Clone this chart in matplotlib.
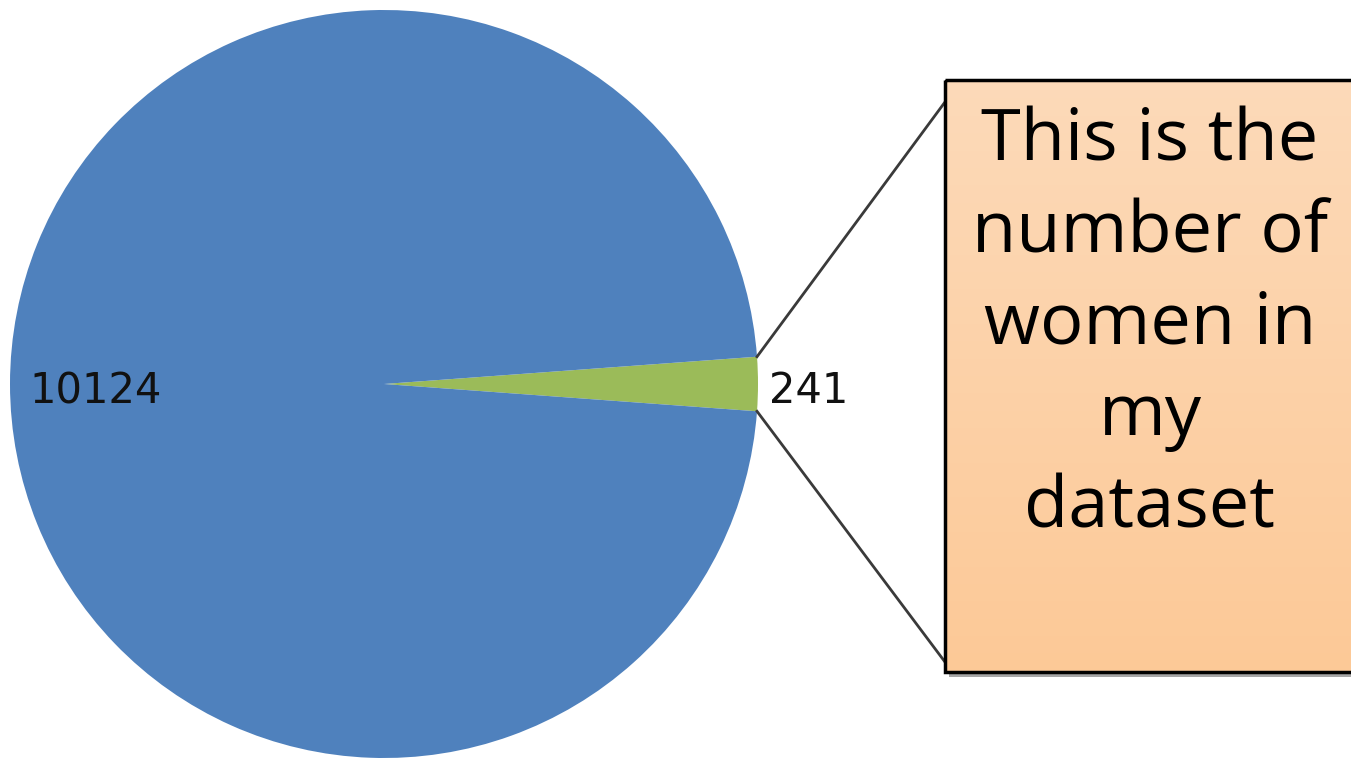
import numpy as np
import matplotlib.pyplot as plt
from matplotlib.patches import Rectangle
from matplotlib.colors import LinearSegmentedColormap

counts = [241, 10124]
labels = ['241', '10124']
colors = ['#9BBB59', '#4F81BD']
note = 'This is the\nnumber of\nwomen in\nmy\ndataset'

W, H = 1351, 758
fig = plt.figure(figsize=(W / 100, H / 100), dpi=100)
ax = fig.add_axes([0, 0, 1, 1])

cx, cy, r = 384, 384, 374
span = 360 * counts[0] / sum(counts)
wedges, _ = ax.pie(counts, colors=colors, startangle=-span / 2,
                   center=(cx, cy), radius=r, frame=True,
                   wedgeprops=dict(linewidth=0))
ax.set_xlim(0, W)
ax.set_ylim(H, 0)
ax.set_aspect('equal')
ax.axis('off')

# data labels (outside for the small slice, inside for the big one)
dists = [1.135, 0.77]
for w, lab, d in zip(wedges, labels, dists):
    th = np.deg2rad((w.theta1 + w.theta2) / 2)
    ax.text(cx + d * r * np.cos(th), cy + 7, lab, ha='center', va='center',
            fontsize=30, family='DejaVu Sans', color='#111111')

# callout box with gradient and shadow
bx, by, bw, bh = 945, 80, 420, 592
ax.add_patch(Rectangle((bx + 4, by + 5), bw, bh, facecolor='#a6a6a6', edgecolor='none', zorder=3))
grad = LinearSegmentedColormap.from_list('g', ['#FDDAB9', '#FCC997'])
img = ax.imshow(np.linspace(0, 1, 256).reshape(-1, 1), cmap=grad, aspect='auto',
                extent=(bx, bx + bw, by + bh, by), zorder=4)
box = Rectangle((bx, by), bw, bh, facecolor='none', edgecolor='black', linewidth=2.5, zorder=5)
ax.add_patch(box)
img.set_clip_path(box)

# leader lines from the small wedge to the box
g = wedges[0]
for ang, ty in [(g.theta2, 102), (g.theta1, 662)]:
    t = np.deg2rad(ang)
    ax.plot([cx + r * np.cos(t), bx], [cy - r * np.sin(t), ty], color='#3a3a3a', lw=2, zorder=2)

ax.text(1150, 325, note, ha='center', va='center', fontsize=52, family='Open Sans',
        linespacing=1.37, color='black', zorder=6)

ax.set_xlim(0, W)
ax.set_ylim(H, 0)
fig.savefig('out.png', dpi=100)
